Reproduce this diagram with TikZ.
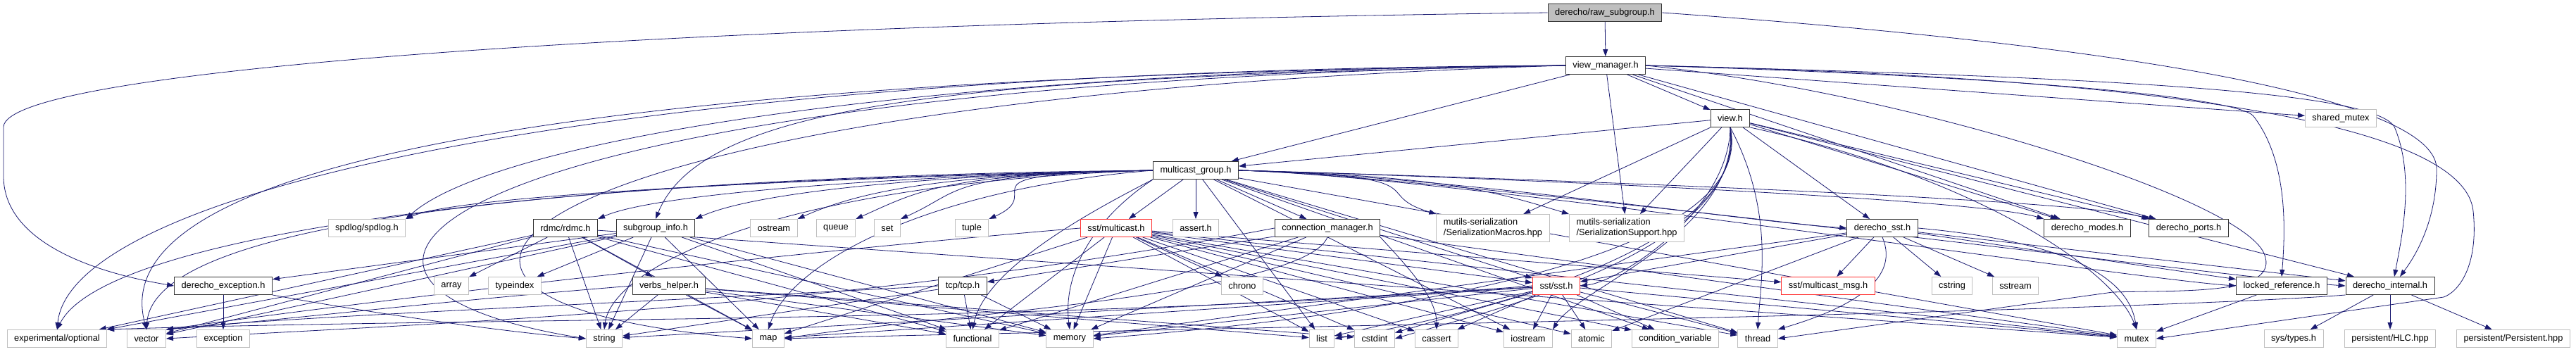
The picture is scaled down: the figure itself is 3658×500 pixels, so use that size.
\documentclass[tikz,border=0pt]{standalone}
\usepackage{fontspec}
\setmainfont{Liberation Sans}
\usetikzlibrary{arrows.meta}

\definecolor{edgeblue}{RGB}{25,25,112}
\definecolor{boxgray}{RGB}{191,191,191}
\definecolor{boxred}{RGB}{255,48,48}

\pgfdeclarelayer{bg}
\pgfsetlayers{bg,main}

\tikzset{
  file/.style={draw=black!80, line width=1pt, fill=white, inner xsep=10pt, inner ysep=2pt,
    minimum height=25pt, font=\fontsize{12.8}{15}\selectfont},
  sys/.style={file, draw=boxgray},
  trunc/.style={file, draw=boxred},
  rootnode/.style={file, fill=boxgray},
  dep/.style={draw=edgeblue, line width=0.8pt, -{Triangle[length=10pt,width=7pt]}},
}

\begin{document}
\begin{tikzpicture}[x=1pt,y=-1pt]
        \useasboundingbox (0,0) rectangle (3658,500);

        % Nodes
        \node[rootnode] (raw) at (2279,18) {derecho/raw\_subgroup.h};
        \node[file] (vm) at (2280,93) {view\_manager.h};
        \node[file] (view) at (2457,168) {view.h};
        \node[sys] (shmutex) at (3324,168) {shared\_mutex};
        \node[file] (mcg) at (1698,242) {multicast\_group.h};

        \node[sys] (spdlog) at (521,324) {spdlog/spdlog.h};
        \node[file] (rdmc) at (803,324) {rdmc/rdmc.h};
        \node[file] (subinfo) at (931,324) {subgroup\_info.h};
        \node[sys] (ostream) at (1099,324) {ostream};
        \node[sys] (queue) at (1187,324) {queue};
        \node[sys] (set) at (1260,324) {set};
        \node[sys] (tuple) at (1380,324) {tuple};
        \node[trunc] (sstmc) at (1585,324) {sst/multicast.h};
        \node[sys] (assert) at (1698,324) {assert.h};
        \node[file] (connmgr) at (1885,324) {connection\_manager.h};
        \node[sys, align=left, minimum height=39pt] (macros) at (2120,324) {mutils-serialization\\/SerializationMacros.hpp};
        \node[sys, align=left, minimum height=39pt] (support) at (2310,324) {mutils-serialization\\/SerializationSupport.hpp};
        \node[file] (dsst) at (2673,324) {derecho\_sst.h};
        \node[file] (modes) at (2964,324) {derecho\_modes.h};
        \node[file] (ports) at (3108,324) {derecho\_ports.h};

        \node[file] (dexc) at (317,406) {derecho\_exception.h};
        \node[sys] (array) at (641,406) {array};
        \node[sys] (typeindex) at (731,406) {typeindex};
        \node[file] (verbs) at (950,406) {verbs\_helper.h};
        \node[file] (tcp) at (1367,406) {tcp/tcp.h};
        \node[sys] (chrono) at (1764,406) {chrono};
        \node[trunc] (sst) at (2210,406) {sst/sst.h};
        \node[trunc] (mcmsg) at (2596,406) {sst/multicast\_msg.h};
        \node[sys] (cstring) at (2772,406) {cstring};
        \node[sys] (sstream) at (2862,406) {sstream};
        \node[file] (locked) at (3240,406) {locked\_reference.h};
        \node[file] (dint) at (3394,406) {derecho\_internal.h};

        \node[sys] (optional) at (81,481) {experimental/optional};
        \node[sys] (vector) at (208,481) {vector};
        \node[sys] (exception) at (317,481) {exception};
        \node[sys] (string) at (858,481) {string};
        \node[sys] (map) at (1091,481) {map};
        \node[sys] (functional) at (1381,481) {functional};
        \node[sys] (memory) at (1519,481) {memory};
        \node[sys] (list) at (1877,481) {list};
        \node[sys] (cstdint) at (1952,481) {cstdint};
        \node[sys] (cassert) at (2040,481) {cassert};
        \node[sys] (iostream) at (2170,481) {iostream};
        \node[sys] (atomic) at (2260,481) {atomic};
        \node[sys] (condvar) at (2379,481) {condition\_variable};
        \node[sys] (thread) at (2496,481) {thread};
        \node[sys] (mutex) at (3034,481) {mutex};
        \node[sys] (systypes) at (3257,481) {sys/types.h};
        \node[sys] (hlc) at (3394,481) {persistent/HLC.hpp};
        \node[sys] (persistent) at (3569,481) {persistent/Persistent.hpp};

        % Edges
        \begin{pgfonlayer}{bg}
        \fill[white] (0,0) rectangle (3658,500);
        % raw_subgroup.h
        \draw[dep] (raw) -- (vm);
        \draw[dep] (raw.west) .. controls (900,35) and (10,100) .. (5,180) -- (5,250) .. controls (5,350) and (150,390) .. (dexc.west);
        \draw[dep] (raw.east) .. controls (3100,70) and (3460,150) .. (3460,240) .. controls (3460,320) and (3425,370) .. ([xshift=14pt]dint.north);

        % view_manager.h
        \foreach \t in {view,mcg,support,shmutex,modes,ports} \draw[dep] (vm) -- (\t);
        \draw[dep] (vm.west) .. controls (1300,100) and (700,200) .. (spdlog.north east);
        \draw[dep] (vm.west) .. controls (1400,110) and (1000,140) .. (subinfo.north);
        \draw[dep] (vm.west) .. controls (700,110) and (150,250) .. (vector.north);
        \draw[dep] (vm.west) .. controls (800,100) and (100,280) .. (optional.north);
        \draw[dep] (vm.west) .. controls (600,120) and (330,400) .. (string.west);
        \draw[dep] (vm.west) .. controls (700,140) and (420,430) .. (map.west);
        \draw[dep] (vm.east) .. controls (2900,110) and (3180,140) .. (3200,165) .. controls (3250,230) and (3245,330) .. (locked.north);
        \draw[dep] (vm.east) .. controls (3000,110) and (3370,130) .. (3400,180) .. controls (3430,250) and (3410,340) .. ([xshift=6pt]dint.north);
        \draw[dep] (vm.east) .. controls (3100,110) and (3500,180) .. (3512,300) .. controls (3520,380) and (3490,415) .. (3470,422) -- (mutex.east);
        \draw[dep] (vm.east) .. controls (2700,130) and (3180,280) .. (3215,360) .. controls (3240,420) and (3100,412) .. (3000,415) -- (thread.east);

        % view.h
        \foreach \t in {mcg,dsst,modes,ports,dint,macros,support} \draw[dep] (view) -- (\t);
        \draw[dep] (view.south) .. controls (2455,300) and (2300,400) .. (sst.east);
        \draw[dep] (view.south) .. controls (2470,330) and (2240,410) .. (iostream.north east);
        \draw[dep] (view.south) .. controls (2480,360) and (2100,445) .. (cstdint.east);
        \draw[dep] (view.south) .. controls (2500,380) and (1900,455) .. (memory.east);
        \draw[dep] (view.south) .. controls (2490,370) and (2000,465) .. (list.east);
        \draw[dep] (view.south) .. controls (2520,300) and (2500,400) .. (thread.north);
        \draw[dep] (view.south east) .. controls (2800,250) and (3000,380) .. (mutex.north);

        % multicast_group.h
        \foreach \t in {spdlog,rdmc,subinfo,ostream,queue,set,tuple}
            \draw[dep] (mcg.west) .. controls +(-300,6) and +(90,-40) .. (\t.north east);
        \foreach \t in {macros,support,modes,ports}
            \draw[dep] (mcg.east) .. controls +(300,8) and +(-100,-30) .. (\t.north west);
        \foreach \t in {dsst,locked,dint}
            \draw[dep] (mcg.east) .. controls +(300,8) and +(-150,-10) .. (\t.west);
        \foreach \t in {sstmc,assert,connmgr,sst,list,iostream,condvar,thread,mutex}
            \draw[dep] (mcg) -- (\t);
        \draw[dep] (mcg.west) .. controls (900,255) and (220,300) .. (vector.north);
        \draw[dep] (mcg.west) .. controls (800,250) and (150,330) .. (optional.north);
        \draw[dep] (mcg.west) .. controls (1100,260) and (870,380) .. (string.north);
        \draw[dep] (mcg.west) .. controls (1300,270) and (1120,380) .. (map.north);
        \draw[dep] (mcg.south west) .. controls (1550,300) and (1400,380) .. (functional.north);
        \draw[dep] (mcg.south west) .. controls (1540,320) and (1510,400) .. (memory.north);

        % connection_manager.h
        \foreach \t in {tcp,memory,functional,mutex} \draw[dep] (connmgr) -- (\t);
        \draw[dep] (connmgr.south) .. controls (1850,420) and (1300,450) .. (map.east);
        \draw[dep] (connmgr.west) .. controls (1200,440) and (600,460) .. (vector.east);
        \draw[dep] (connmgr.south east) .. controls (1990,370) and (2040,420) .. (cassert.north);

        % sst/multicast.h
        \foreach \t in {chrono,map,functional,memory,sst,mcmsg,condvar,thread,mutex,atomic,iostream,cstdint,cassert,list}
            \draw[dep] (sstmc) -- (\t);
        \draw[dep] (sstmc.west) .. controls (1100,360) and (500,430) .. (vector.north east);

        % rdmc/rdmc.h
        \foreach \t in {array,verbs,string,map,memory,functional,vector,optional,mutex} \draw[dep] (rdmc) -- (\t);

        % subgroup_info.h
        \foreach \t in {typeindex,map,vector,optional,dexc,memory,functional,string} \draw[dep] (subinfo) -- (\t);

        % verbs_helper.h
        \foreach \t in {string,map,functional,memory,cstdint,list} \draw[dep] (verbs) -- (\t);
        \draw[dep] (verbs.west) .. controls (600,430) and (400,455) .. (vector.north east);

        % tcp/tcp.h
        \foreach \t in {functional,memory,string} \draw[dep] (tcp) -- (\t);
        \draw[dep] (tcp.west) .. controls (900,430) and (400,450) .. (vector.north east);

        % derecho_exception.h
        \draw[dep] (dexc) -- (exception);
        \draw[dep] (dexc.south east) .. controls (500,440) and (700,470) .. (string.west);

        % sst/sst.h
        \foreach \t in {iostream,atomic,cassert,condvar,thread,mutex,cstdint,list,memory,map,string} \draw[dep] (sst) -- (\t);
        \draw[dep] (sst.west) .. controls (1500,460) and (700,450) .. (optional.north east);

        % derecho_sst.h
        \foreach \t in {mcmsg,cstring,sstream,sst,locked,dint,atomic,memory} \draw[dep] (dsst) -- (\t);
        \draw[dep] (dsst.south) .. controls (2700,400) and (2620,440) .. (thread.north east);
        \draw[dep] (dsst.east) .. controls (2900,340) and (3020,380) .. (mutex.north);

        % locked_reference.h and derecho_internal.h
        \draw[dep] (locked) -- (mutex);
        \foreach \t in {systypes,hlc,persistent} \draw[dep] (dint) -- (\t);
        \draw[dep] (dint.south west) .. controls (3000,445) and (1500,470) .. (map.east);
        \end{pgfonlayer}
\end{tikzpicture}
\end{document}
